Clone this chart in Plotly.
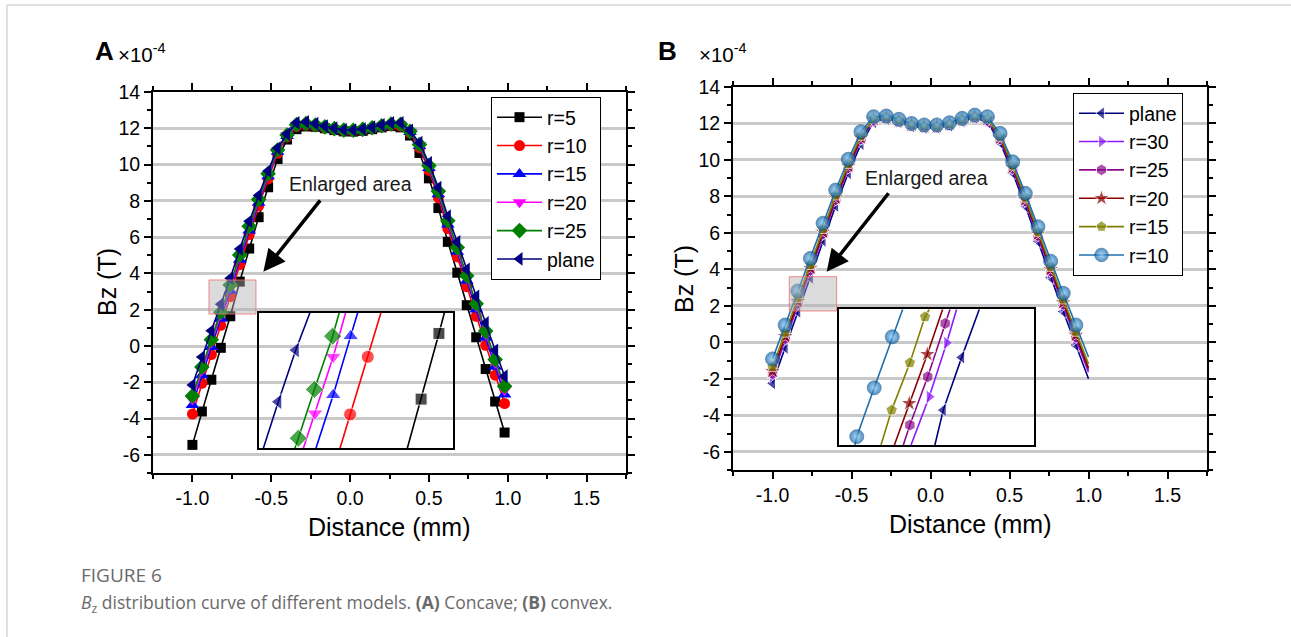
import plotly.graph_objects as go

# ---------------- data ----------------
x_A = [-1.00, -0.94, -0.88, -0.82, -0.76, -0.70, -0.64, -0.58, -0.52, -0.46, -0.40, -0.34,
       -0.28, -0.22, -0.16, -0.10, -0.04, 0.02, 0.08, 0.14, 0.20, 0.26, 0.32, 0.38, 0.44,
       0.50, 0.56, 0.62, 0.68, 0.74, 0.80, 0.86, 0.92, 0.98]
A_r5 = [-5.45, -3.61, -1.86, -0.10, 1.64, 3.55, 5.37, 7.10, 8.75, 10.31, 11.38, 11.95, 12.10,
        12.08, 12.00, 11.90, 11.83, 11.82, 11.86, 11.95, 12.05, 12.12, 12.05, 11.60, 10.64,
        9.24, 7.60, 5.74, 4.04, 2.25, 0.48, -1.27, -3.06, -4.77]
A_r10 = [-3.75, -2.06, -0.47, 1.14, 2.72, 4.48, 6.14, 7.72, 9.21, 10.62, 11.53, 12.10, 12.18,
         12.12, 12.03, 11.93, 11.86, 11.85, 11.90, 11.98, 12.08, 12.16, 12.12, 11.75, 10.93,
         9.68, 8.18, 6.47, 4.91, 3.27, 1.64, 0.04, -1.61, -3.17]
A_r15 = [-3.25, -1.61, -0.06, 1.50, 3.04, 4.75, 6.37, 7.90, 9.35, 10.71, 11.58, 12.15, 12.22,
         12.15, 12.05, 11.95, 11.88, 11.87, 11.92, 12.00, 12.10, 12.20, 12.18, 11.79, 11.02,
         9.81, 8.36, 6.69, 5.19, 3.59, 2.01, 0.45, -1.15, -2.67]
A_r20 = [-2.95, -1.34, 0.19, 1.72, 3.23, 4.91, 6.51, 8.01, 9.43, 10.76, 11.61, 12.17, 12.24,
         12.16, 12.06, 11.96, 11.89, 11.88, 11.93, 12.01, 12.12, 12.22, 12.20, 11.81, 11.07,
         9.88, 8.45, 6.81, 5.32, 3.75, 2.19, 0.65, -0.92, -2.42]
A_r25 = [-2.75, -1.16, 0.35, 1.86, 3.36, 5.02, 6.60, 8.08, 9.49, 10.80, 11.63, 12.20, 12.26,
         12.18, 12.08, 11.98, 11.90, 11.89, 11.94, 12.03, 12.14, 12.24, 12.22, 11.83, 11.10,
         9.94, 8.53, 6.90, 5.43, 3.87, 2.33, 0.82, -0.74, -2.22]
A_plane = [-2.15, -0.61, 0.84, 2.30, 3.74, 5.35, 6.87, 8.30, 9.65, 10.91, 11.68, 12.30, 12.35,
           12.25, 12.12, 12.00, 11.92, 11.90, 11.96, 12.06, 12.18, 12.30, 12.30, 11.88, 11.20,
           10.09, 8.73, 7.15, 5.73, 4.22, 2.73, 1.27, -0.24, -1.67]

x_B = [-1.00, -0.92, -0.84, -0.76, -0.68, -0.60, -0.52, -0.44, -0.36, -0.28, -0.20, -0.12,
       -0.04, 0.04, 0.12, 0.20, 0.28, 0.36, 0.44, 0.52, 0.60, 0.68, 0.76, 0.84, 0.92, 1.00]
B_plane = [-2.24, -0.29, 1.68, 3.55, 5.58, 7.49, 9.28, 10.88, 12.07, 12.26, 12.08, 11.85, 11.77,
           11.77, 11.89, 12.13, 12.31, 12.07, 10.96, 9.30, 7.47, 5.54, 3.55, 1.69, -0.15, -2.00]
B_r30 = [-1.84, 0.08, 2.02, 3.86, 5.86, 7.75, 9.51, 11.08, 12.15, 12.29, 12.11, 11.88, 11.80,
         11.80, 11.92, 12.16, 12.34, 12.15, 11.11, 9.48, 7.68, 5.78, 3.82, 1.99, 0.18, -1.64]
B_r25 = [-1.71, 0.21, 2.14, 3.97, 5.96, 7.83, 9.58, 11.15, 12.17, 12.31, 12.13, 11.90, 11.82,
         11.82, 11.94, 12.18, 12.36, 12.17, 11.16, 9.54, 7.75, 5.86, 3.91, 2.09, 0.29, -1.52]
B_r20 = [-1.58, 0.33, 2.25, 4.07, 6.05, 7.92, 9.66, 11.21, 12.22, 12.33, 12.15, 11.92, 11.84,
         11.84, 11.96, 12.20, 12.38, 12.22, 11.21, 9.60, 7.82, 5.94, 4.00, 2.19, 0.40, -1.40]
B_r15 = [-1.34, 0.55, 2.46, 4.26, 6.23, 8.07, 9.80, 11.34, 12.27, 12.35, 12.17, 11.94, 11.86,
         11.86, 11.98, 12.22, 12.40, 12.27, 11.30, 9.71, 7.95, 6.08, 4.16, 2.37, 0.60, -1.18]
B_r10 = [-0.91, 0.95, 2.82, 4.60, 6.53, 8.35, 10.04, 11.55, 12.37, 12.41, 12.23, 12.00, 11.92,
         11.92, 12.04, 12.28, 12.46, 12.37, 11.46, 9.90, 8.17, 6.34, 4.45, 2.69, 0.95, -0.80]

# inset (enlarged-area) data, in the inset's own relative units
insA_r5_x = [7.63, 8.34, 9.26, 9.54];        insA_r5_y = [0, 2.54, 5.93, 7.0]
insA_r10_x = [4.16, 4.68, 5.59, 6.27];       insA_r10_y = [0, 1.75, 4.72, 7.0]
insA_r15_x = [2.92, 3.81, 4.71, 5.07];       insA_r15_y = [0, 2.75, 5.79, 7.0]
insA_r20_x = [2.27, 2.87, 3.81, 4.45];       insA_r20_y = [0, 1.80, 4.72, 7.0]
insA_r25_x = [1.84, 2.01, 2.84, 3.78, 4.12]; insA_r25_y = [0, 0.52, 3.04, 5.79, 7.0]
insA_pl_x = [0.21, 0.98, 1.88, 2.61];        insA_pl_y = [0, 2.40, 5.07, 7.0]

insB_pl_x = [4.93, 5.36, 6.31, 7.22];        insB_pl_y = [0, 1.80, 4.52, 7.0]
insB_r30_x = [3.70, 4.64, 5.54, 6.05];       insB_r30_y = [0, 2.49, 5.27, 7.0]
insB_r25_x = [3.30, 3.64, 4.56, 5.46, 5.71]; insB_r25_y = [0, 1.03, 3.52, 6.27, 7.0]
insB_r20_x = [2.84, 3.61, 4.54, 5.33];       insB_r20_y = [0, 2.15, 4.68, 7.0]
insB_r15_x = [2.15, 2.70, 3.64, 4.42, 4.64]; insB_r15_y = [0, 1.80, 4.24, 6.61, 7.0]
insB_r10_x = [0.81, 0.90, 1.80, 2.73, 3.27]; insB_r10_y = [0, 0.43, 2.95, 5.58, 7.0]

x_tickvals = [-1.0, -0.5, 0.0, 0.5, 1.0, 1.5]
x_ticktext = ["-1.0", "-0.5", "0.0", "0.5", "1.0", "1.5"]
y_tickvals = [-6, -4, -2, 0, 2, 4, 6, 8, 10, 12, 14]
y_ticktext = ["-6", "-4", "-2", "0", "2", "4", "6", "8", "10", "12", "14"]

# ---------------- figure ----------------
W, H = 1291, 637
FONT = "Liberation Sans, Arial, sans-serif"
CAPFONT = "Open Sans, Noto Sans, sans-serif"

def px(xp):
    return xp / W

def py(yp):
    return 1 - yp / H

fig = go.Figure()

A_specs = [
    ("r=5", A_r5, "black", "square", 10, insA_r5_x, insA_r5_y),
    ("r=10", A_r10, "#ff0000", "circle", 11, insA_r10_x, insA_r10_y),
    ("r=15", A_r15, "#0000ff", "triangle-up", 12, insA_r15_x, insA_r15_y),
    ("r=20", A_r20, "#ff00ff", "triangle-down", 12, insA_r20_x, insA_r20_y),
    ("r=25", A_r25, "#008000", "diamond", 12, insA_r25_x, insA_r25_y),
    ("plane", A_plane, "#000080", "triangle-left", 12, insA_pl_x, insA_pl_y),
]
for name, ys, col, sym, sz, ix, iy in A_specs:
    fig.add_trace(go.Scatter(
        x=x_A, y=ys, name=name, mode="lines+markers", xaxis="x", yaxis="y",
        line=dict(color=col, width=1.6), marker=dict(symbol=sym, size=sz, color=col),
        legend="legend"))
for name, ys, col, sym, sz, ix, iy in A_specs:
    sizes = [0] + [sz + 2] * (len(ix) - 2) + [0]
    fig.add_trace(go.Scatter(
        x=ix, y=iy, mode="lines+markers", xaxis="x3", yaxis="y3", showlegend=False,
        line=dict(color=col, width=1.6), marker=dict(symbol=sym, size=sizes, color=col),
        cliponaxis=False, hoverinfo="skip"))

B_specs = [
    ("plane", B_plane, "#000080", "triangle-left", 12, insB_pl_x, insB_pl_y),
    ("r=30", B_r30, "#8c1aff", "triangle-right", 12, insB_r30_x, insB_r30_y),
    ("r=25", B_r25, "#8b0a8b", "hexagon", 12, insB_r25_x, insB_r25_y),
    ("r=20", B_r20, "#8b0000", "star", 13, insB_r20_x, insB_r20_y),
    ("r=15", B_r15, "#808000", "pentagon", 12, insB_r15_x, insB_r15_y),
    ("r=10", B_r10, "#1f6fae", "circle", 14, insB_r10_x, insB_r10_y),
]
SPHERE = dict(color="#0b5fa6", gradient=dict(type="radial", color="#8fcdf7"),
              line=dict(width=0.8, color="#0a4c82"))
for name, ys, col, sym, sz, ix, iy in B_specs:
    mk = dict(symbol=sym, size=[sz] * (len(ys) - 1) + [0], color=col)
    if sym == "circle":
        mk.update(SPHERE)
    fig.add_trace(go.Scatter(
        x=x_B, y=ys, name=name, mode="lines+markers", xaxis="x2", yaxis="y2",
        line=dict(color=col, width=1.6), marker=mk, legend="legend2"))
for name, ys, col, sym, sz, ix, iy in B_specs:
    sizes = [0] + [sz] * (len(ix) - 2) + [0]
    mk = dict(symbol=sym, size=sizes, color=col)
    if sym == "circle":
        mk.update(SPHERE)
    fig.add_trace(go.Scatter(
        x=ix, y=iy, mode="lines+markers", xaxis="x4", yaxis="y4", showlegend=False,
        line=dict(color=col, width=1.6), marker=mk, cliponaxis=False, hoverinfo="skip"))

tickfont = dict(family=FONT, size=19.5, color="black")

def main_x(domain, anchor):
    return dict(domain=domain, anchor=anchor, range=[-1.25, 1.75], tickmode="array",
                tickvals=x_tickvals, ticktext=x_ticktext, ticks="outside", ticklen=7,
                tickwidth=2, tickcolor="black", showline=True, linewidth=2, linecolor="black",
                mirror="ticks", showgrid=False, zeroline=False, tickfont=tickfont,
                automargin=False,
                minor=dict(tickmode="linear", tick0=-1.25, dtick=0.25, ticks="outside",
                           ticklen=4, tickwidth=2, tickcolor="black", showgrid=False))

def main_y(domain, anchor):
    return dict(domain=domain, anchor=anchor, range=[-7, 14], tickmode="array",
                tickvals=y_tickvals, ticktext=y_ticktext, ticks="outside", ticklen=7,
                tickwidth=2, tickcolor="black", showline=True, linewidth=2, linecolor="black",
                mirror="ticks", showgrid=True, gridcolor="#c9c9c9", gridwidth=2.5,
                zeroline=False, tickfont=tickfont, automargin=False,
                minor=dict(tickmode="linear", tick0=-7, dtick=1, ticks="outside",
                           ticklen=4, tickwidth=2, tickcolor="black", showgrid=False))

def inset_ax(domain, anchor, rng):
    return dict(domain=domain, anchor=anchor, range=rng, showline=True, linewidth=2,
                linecolor="black", mirror=True, ticks="", showticklabels=False,
                showgrid=False, zeroline=False, fixedrange=True, automargin=False)

legend_common = dict(xanchor="left", yanchor="top", bgcolor="white", bordercolor="black",
                     borderwidth=1, font=dict(family=FONT, size=19.5, color="black"),
                     tracegroupgap=0, itemwidth=45)

fig.update_layout(
    width=W, height=H, margin=dict(l=0, r=0, t=0, b=0, pad=0, autoexpand=False),
    paper_bgcolor="white", plot_bgcolor="rgba(0,0,0,0)",
    xaxis=main_x([px(153), px(626)], "y"),
    yaxis=main_y([py(473), py(92)], "x"),
    xaxis2=main_x([px(733), px(1207)], "y2"),
    yaxis2=main_y([py(470), py(87)], "x2"),
    xaxis3=inset_ax([px(259.3), px(453.3)], "y3", [0, 10]),
    yaxis3=inset_ax([py(448.3), py(312.7)], "x3", [0, 7]),
    xaxis4=inset_ax([px(839.3), px(1034)], "y4", [0, 10.04]),
    yaxis4=inset_ax([py(445), py(309.3)], "x4", [0, 7]),
    legend=dict(x=px(491), y=py(97), **legend_common),
    legend2=dict(x=px(1073), y=py(93), **legend_common),
    showlegend=True,
)

# enlarged-area rectangles
for xr, yr, (x0, x1, y0, y1) in [("x", "y", (-0.895, -0.597, 1.76, 3.64)),
                                  ("x2", "y2", (-0.894, -0.594, 1.72, 3.60))]:
    fig.add_shape(type="rect", xref=xr, yref=yr, x0=x0, x1=x1, y0=y0, y1=y1,
                  fillcolor="rgba(175,175,175,0.45)", line=dict(color="rgba(240,110,110,0.8)", width=1),
                  layer="above")

# frame lines of the page
fig.add_shape(type="line", xref="paper", yref="paper", x0=px(7), x1=1, y0=py(5), y1=py(5),
              line=dict(color="#d6d6d6", width=1.5))
fig.add_shape(type="line", xref="paper", yref="paper", x0=px(7), x1=px(7), y0=0, y1=py(5),
              line=dict(color="#d6d6d6", width=1.5))

ann = []
# arrows
ann.append(dict(xref="x", yref="y", x=-0.550, y=4.09, ax=58, ay=-73, text="", showarrow=True,
                arrowhead=2, arrowsize=1.25, arrowwidth=3.5, arrowcolor="black", standoff=0))
ann.append(dict(xref="x2", yref="y2", x=-0.657, y=3.87, ax=63, ay=-80, text="", showarrow=True,
                arrowhead=2, arrowsize=1.25, arrowwidth=3.5, arrowcolor="black", standoff=0))
# "Enlarged area" labels
ann.append(dict(xref="x", yref="y", x=0.0, y=8.93, text="Enlarged area", showarrow=False,
                font=dict(family=FONT, size=19.5, color="#1a1a1a")))
ann.append(dict(xref="x2", yref="y2", x=-0.024, y=9.0, text="Enlarged area", showarrow=False,
                font=dict(family=FONT, size=19.5, color="#1a1a1a")))
# axis titles
for cx, cy in [(389.5, 527), (970, 524)]:
    ann.append(dict(xref="paper", yref="paper", x=px(cx), y=py(cy), text="Distance (mm)",
                    showarrow=False, xanchor="center", yanchor="middle",
                    font=dict(family=FONT, size=25, color="black")))
for cx, cy in [(107, 282), (684, 279)]:
    ann.append(dict(xref="paper", yref="paper", x=px(cx), y=py(cy), text="Bz (T)",
                    showarrow=False, xanchor="center", yanchor="middle", textangle=-90,
                    font=dict(family=FONT, size=25, color="black")))
# panel letters and exponents
for lx, ex, txt in [(93, 116, "A"), (656, 697, "B")]:
    ann.append(dict(xref="paper", yref="paper", x=px(lx), y=py(51), text="<b>%s</b>" % txt,
                    showarrow=False, xanchor="left", yanchor="middle",
                    font=dict(family=FONT, size=26, color="black")))
    ann.append(dict(xref="paper", yref="paper", x=px(ex), y=py(53), text="×10<sup>-4</sup>",
                    showarrow=False, xanchor="left", yanchor="middle",
                    font=dict(family=FONT, size=20.5, color="black")))
# caption
ann.append(dict(xref="paper", yref="paper", x=px(79), y=py(575), text="FIGURE 6",
                showarrow=False, xanchor="left", yanchor="middle",
                font=dict(family=CAPFONT, size=19, color="#6a6a6a")))
ann.append(dict(xref="paper", yref="paper", x=px(79), y=py(603),
                text="<i>B</i><sub>z</sub> distribution curve of different models. "
                     "<b>(A)</b> Concave; <b>(B)</b> convex.",
                showarrow=False, xanchor="left", yanchor="middle",
                font=dict(family=CAPFONT, size=17.5, color="#6a6a6a")))
fig.update_layout(annotations=ann)

fig.write_html("out.html", config={"displayModeBar": False},
               post_script="document.body.style.margin='0';document.body.style.overflow='hidden';")
